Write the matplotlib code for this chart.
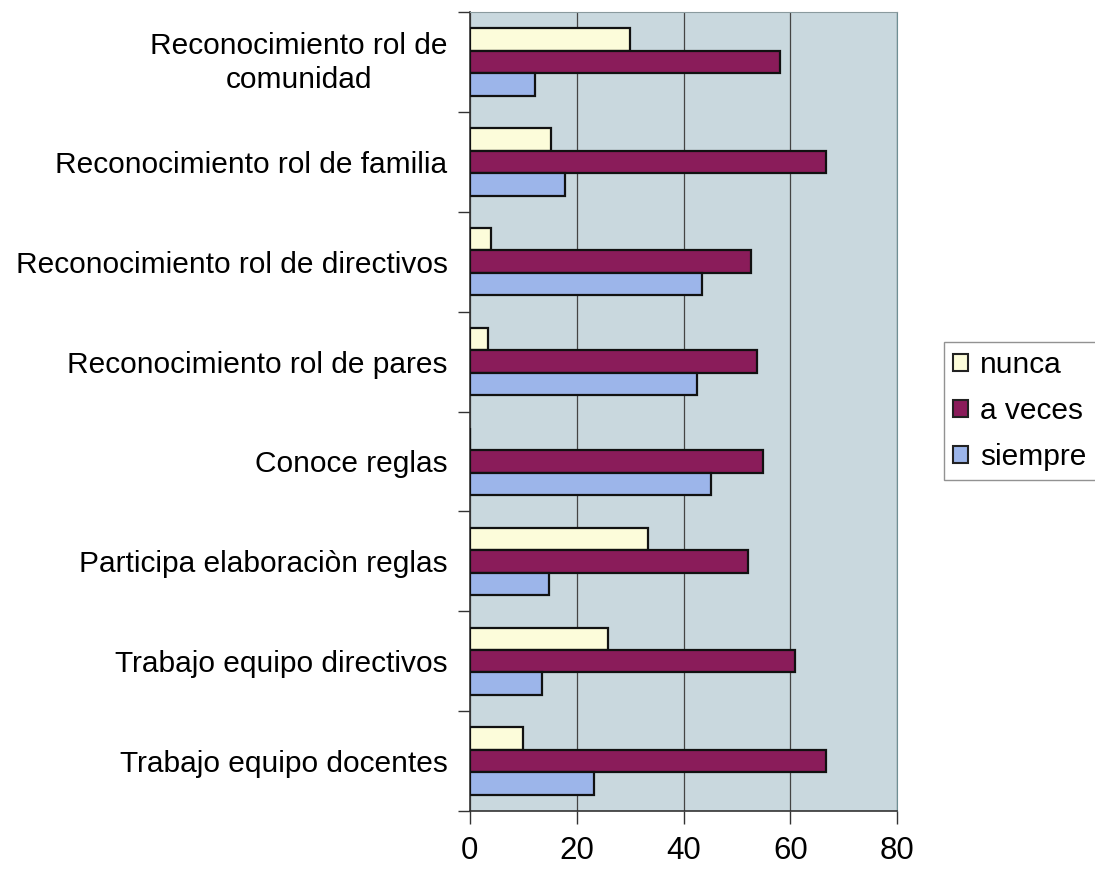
import numpy as np
import matplotlib
matplotlib.use("Agg")
import matplotlib.pyplot as plt
import matplotlib.transforms as mtransforms
from matplotlib.patches import Patch

# --- Andmed ---
categories = [
    "Reconocimiento rol de\ncomunidad",
    "Reconocimiento rol de familia",
    "Reconocimiento rol de directivos",
    "Reconocimiento rol de pares",
    "Conoce reglas",
    "Participa elaboraciòn reglas",
    "Trabajo equipo directivos",
    "Trabajo equipo docentes",
]
nunca = [30.0, 15.2, 3.9, 3.5, 0.0, 33.3, 25.9, 9.9]
a_veces = [58.0, 66.7, 52.6, 53.8, 54.8, 52.1, 60.8, 66.6]
siempre = [12.3, 17.8, 43.5, 42.5, 45.1, 14.8, 13.5, 23.3]
series_names = ["nunca", "a veces", "siempre"]
x_ticks = [0, 20, 40, 60, 80]

# --- Stiil ---
COLORS = ["#FCFCDA", "#8A1C5A", "#9CB5EA"]
BG = "#C9D8DE"
plt.rcParams["font.family"] = ["Liberation Sans", "DejaVu Sans"]

fig = plt.figure(figsize=(10.95, 8.69), dpi=100)
ax = fig.add_axes([0.429, 0.0667, 0.3905, 0.9195])
ax.set_facecolor(BG)

y = np.arange(len(categories))
h = 0.225
for vals, off, col in zip([nunca, a_veces, siempre], [-h, 0, h], COLORS):
    ax.barh(y + off, vals, height=h, color=col, edgecolor="#111111",
            linewidth=1.6, zorder=3)

ax.set_xlim(0, 80)
ax.set_ylim(len(categories) - 0.5, -0.5)

# ruudustik ja x-telg
ax.set_xticks(x_ticks)
ax.set_xticklabels([str(t) for t in x_ticks], fontsize=22.5)
ax.xaxis.grid(True, color="#444444", linewidth=0.9, zorder=1)
ax.tick_params(axis="x", length=9, width=1, color="#333333", pad=9)

# y-teljel märgid kategooriate vahel, sildid keskel
ax.set_yticks(np.arange(-0.5, len(categories), 1.0))
ax.set_yticklabels([])
ax.tick_params(axis="y", which="major", length=9, width=1, color="#333333")
ax.set_yticks(y, minor=True)
ax.set_yticklabels(categories, minor=True, fontsize=21.5, linespacing=1.28)
ax.tick_params(axis="y", which="minor", length=0, pad=16)
for lab in ax.get_yticklabels(minor=True):
    lab.set_multialignment("center")

# kaherealine silt veidi ülespoole
first = ax.get_yticklabels(minor=True)[0]
shift = mtransforms.ScaledTranslation(0, 5 / 100, fig.dpi_scale_trans)
first.set_transform(first.get_transform() + shift)

for side in ["left", "bottom"]:
    ax.spines[side].set_color("#333333")
    ax.spines[side].set_linewidth(1.2)
ax.spines["top"].set_color("#8a9a9e")
ax.spines["right"].set_color("#6f8f95")

handles = [Patch(facecolor=c, edgecolor="#222222", linewidth=1.5) for c in COLORS]
leg = fig.legend(handles, series_names, loc="upper left",
                 bbox_to_anchor=(0.862, 0.606), fontsize=21.5,
                 frameon=True, fancybox=False, handlelength=0.52,
                 handleheight=0.52, handletextpad=0.4, labelspacing=0.6,
                 borderpad=0.3, borderaxespad=0)
leg.get_frame().set_edgecolor("#777777")
leg.get_frame().set_linewidth(1.0)

fig.savefig("out.png", dpi=100, facecolor="white")
